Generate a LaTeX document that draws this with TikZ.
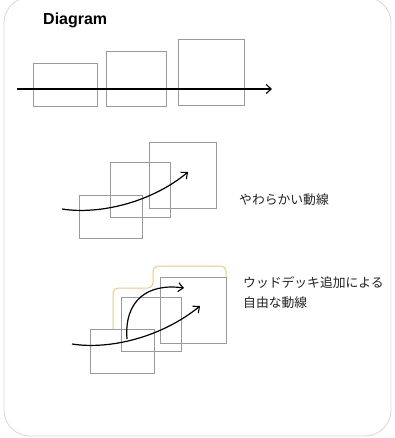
\documentclass[tikz,border=0pt]{standalone}
\usepackage{fontspec}
\setmainfont{Noto Sans}
\newfontfamily\jp{Noto Sans CJK JP}
\newfontfamily\titlefont{Liberation Sans}
\usetikzlibrary{arrows.meta}
\definecolor{boxgray}{HTML}{9A9A9A}
\definecolor{framegray}{HTML}{D6D6D6}
\definecolor{deck}{HTML}{E6C98A}
\definecolor{txt}{HTML}{222222}
\tikzset{
  room/.style={draw=boxgray, line width=0.9pt, inner sep=0pt, outer sep=0pt},
  flow/.style={draw=black, line width=1.2pt, -{Straight Barb[length=5pt,width=9pt,line width=1.1pt]}},
  label jp/.style={anchor=west, inner sep=0pt, text=txt, font=\jp\fontsize{12.8}{15}\selectfont},
}
\begin{document}
\begin{tikzpicture}[x=1pt,y=-1pt]
\useasboundingbox (0,0) rectangle (394,438);
\draw[framegray, line width=0.8pt, rounded corners=26pt] (4,-3) rectangle (391,436);
\node[anchor=base west, inner sep=0pt, text=black, font=\titlefont\bfseries\fontsize{16}{19}\selectfont] (title) at (43,25) {Diagram};
% top row
\node[room, minimum width=64pt, minimum height=43pt] (t1) at (65,84.5) {};
\node[room, minimum width=60pt, minimum height=55pt] (t2) at (136,78.5) {};
\node[room, minimum width=66pt, minimum height=66pt] (t3) at (211,72) {};
\coordinate (ts) at (17,89);
\coordinate (te) at (272,89);
\draw[flow] (ts) -- (te);
% middle group
\node[room, minimum width=63pt, minimum height=43pt] (m1) at (110.5,216.5) {};
\node[room, minimum width=60pt, minimum height=55pt] (m2) at (140,189.5) {};
\node[room, minimum width=67pt, minimum height=66pt] (m3) at (182.5,175) {};
\coordinate (ms) at (62,209);
\coordinate (me) at (188,172);
\draw[flow] (ms) .. controls (100,215) and (152,202) .. (me);
\node[label jp] (mtext) at (239,200) {やわらかい動線};
% bottom group
\node[room, minimum width=64pt, minimum height=44pt] (b1) at (122,351) {};
\node[room, minimum width=60pt, minimum height=54pt] (b2) at (151,324) {};
\node[room, minimum width=66pt, minimum height=66pt] (b3) at (193,310) {};
\draw[deck, line width=1pt, rounded corners=5pt] (113,329) -- (113,288) -- (153,288) -- (153,266) -- (226,266) -- (226,277);
\coordinate (bs) at (72,344);
\coordinate (be) at (200,306);
\draw[flow] (bs) .. controls (110,350) and (162,337) .. (be);
\coordinate (cs) at (127,339);
\coordinate (ce) at (184,288);
\draw[flow] (cs) .. controls (124,300) and (148,283) .. (ce);
\node[label jp] (btext1) at (243,283) {ウッドデッキ追加による};
\node[label jp] (btext2) at (243,303) {自由な動線};
\end{tikzpicture}
\end{document}
